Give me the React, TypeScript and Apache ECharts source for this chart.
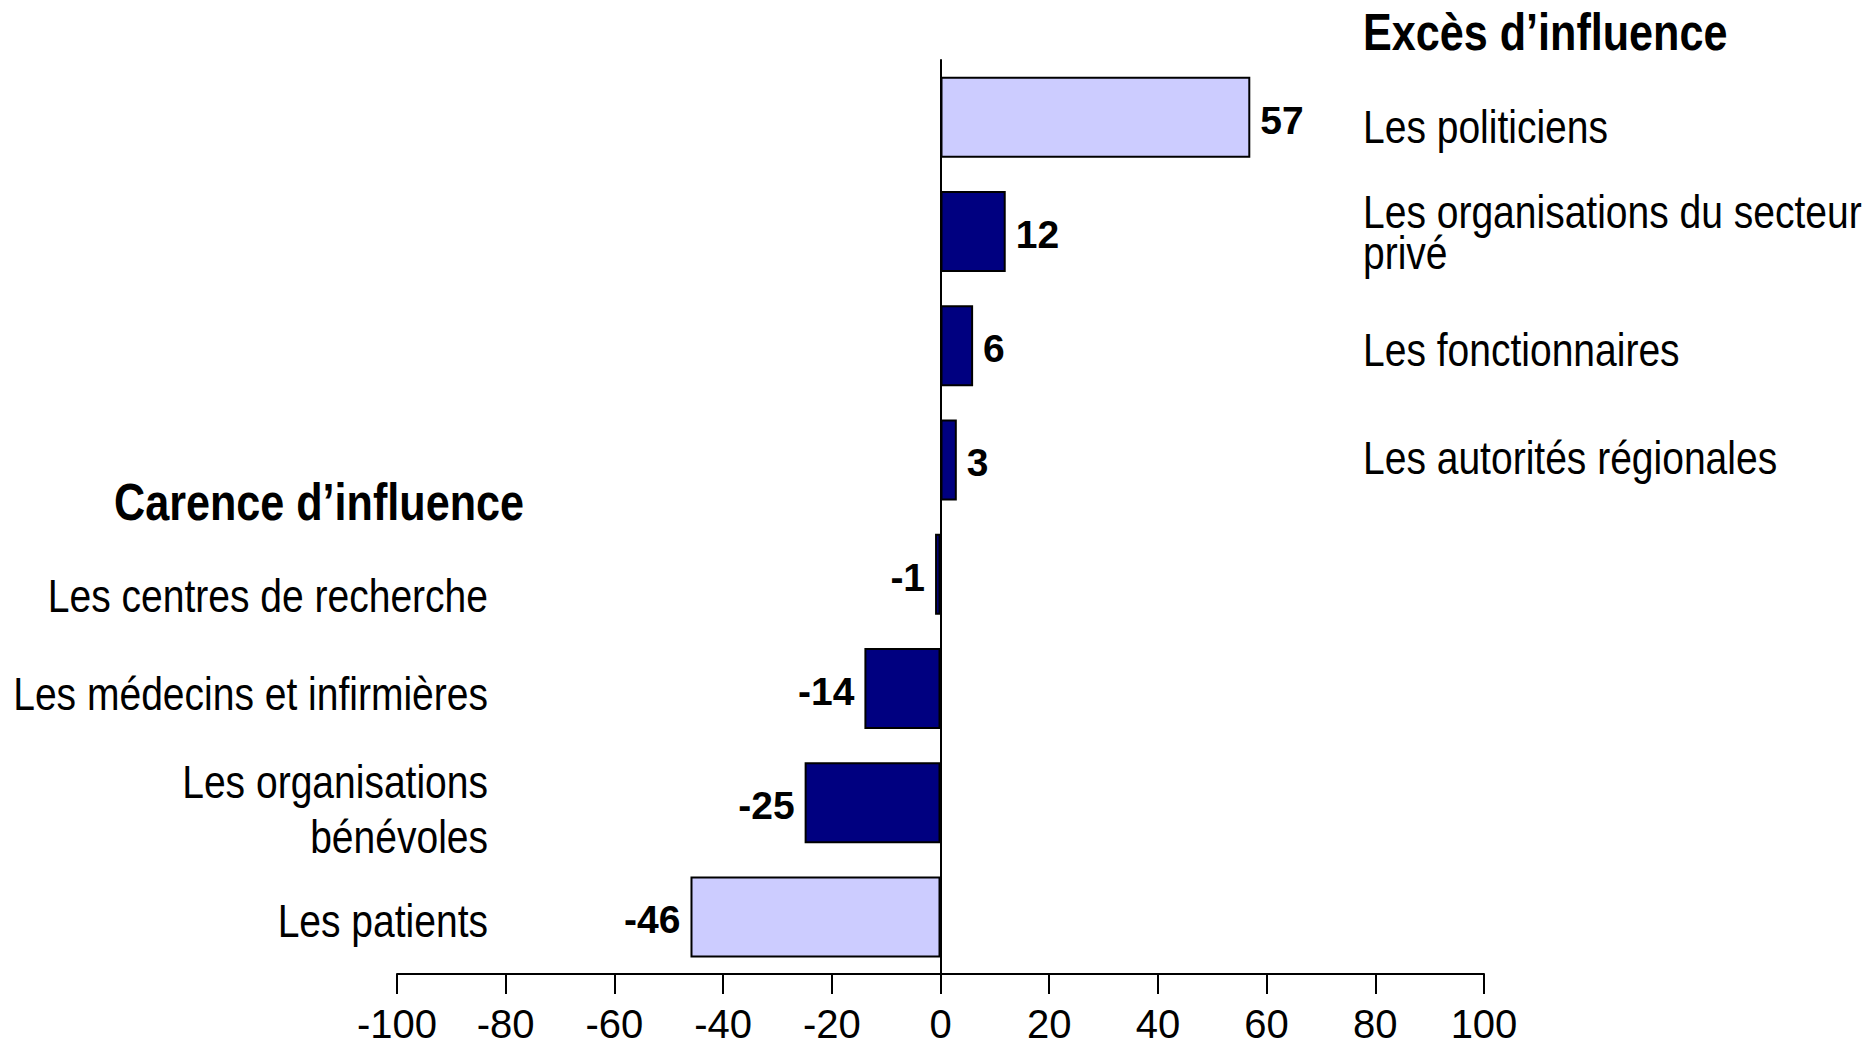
import React, { useEffect, useRef } from "react";
import * as echarts from "echarts";

const categories = [
  "Les politiciens",
  "Les organisations du secteur\nprivé",
  "Les fonctionnaires",
  "Les autorités régionales",
  "Les centres de recherche",
  "Les médecins et infirmières",
  "Les organisations\nbénévoles",
  "Les patients",
];
const values = [57, 12, 6, 3, -1, -14, -25, -46];
const highlighted = [true, false, false, false, false, false, false, true];
const xTicks = [-100, -80, -60, -40, -20, 0, 20, 40, 60, 80, 100];
const titleExcess = "Excès d’influence";
const titleDeficit = "Carence d’influence";

const FONT = '"Liberation Sans", Arial, sans-serif';
const NARROW_SCALE = 0.83;

// label layout (pixel positions for the annotation texts)
const rightX = 1363;
const leftX = 488;
const labelY = [127, 232, 350, 458, 596, 694, 809, 921];
const labelLH = [47, 41, 47, 47, 47, 47, 55, 47];

export default function App() {
  const ref = useRef<HTMLDivElement>(null);
  useEffect(() => {
    if (!ref.current) return;
    const chart = echarts.init(ref.current, undefined, { renderer: "svg" });
    const graphics: any[] = [];
    graphics.push({
      type: "text",
      x: rightX,
      y: 32,
      scaleX: NARROW_SCALE,
      style: {
        text: titleExcess,
        font: `bold 52px ${FONT}`,
        fill: "#000",
        textAlign: "left",
        textVerticalAlign: "middle",
      },
    });
    graphics.push({
      type: "text",
      x: 114,
      y: 502,
      scaleX: NARROW_SCALE,
      style: {
        text: titleDeficit,
        font: `bold 52px ${FONT}`,
        fill: "#000",
        textAlign: "left",
        textVerticalAlign: "middle",
      },
    });
    categories.forEach((c, i) => {
      const right = values[i] >= 0;
      graphics.push({
        type: "text",
        x: right ? rightX : leftX,
        y: labelY[i],
        scaleX: NARROW_SCALE,
        style: {
          text: c,
          font: `47px ${FONT}`,
          lineHeight: labelLH[i],
          fill: "#000",
          textAlign: right ? "left" : "right",
          textVerticalAlign: "middle",
        },
      });
    });

    chart.setOption({
      animation: false,
      backgroundColor: "#fff",
      grid: { left: 397, right: 391, top: 60, bottom: 72, containLabel: false },
      xAxis: {
        type: "value",
        min: -100,
        max: 100,
        interval: 20,
        axisLine: { show: true, lineStyle: { color: "#000", width: 2 } },
        axisTick: { show: true, length: 20, lineStyle: { color: "#000", width: 2 } },
        splitLine: { show: false },
        axisLabel: {
          margin: 30,
          color: "#000",
          fontFamily: FONT,
          fontSize: 40,
          lineHeight: 40,
          formatter: (v: number) => (xTicks.includes(v) ? String(v) : ""),
        },
      },
      yAxis: {
        type: "category",
        data: categories,
        inverse: true,
        axisLine: { show: true, onZero: true, lineStyle: { color: "#000", width: 2 } },
        axisTick: { show: false },
        axisLabel: { show: false },
        splitLine: { show: false },
      },
      series: [
        {
          type: "bar",
          barWidth: 81,
          data: values.map((v, i) => ({
            value: v,
            itemStyle: {
              color: highlighted[i] ? "#CCCCFF" : "#000080",
              borderColor: "#000",
              borderWidth: 2,
            },
            label: {
              show: true,
              position: v >= 0 ? "right" : "left",
              distance: 10,
              offset: [0, 3],
              fontFamily: FONT,
              fontWeight: "bold",
              fontSize: 39,
              color: "#000",
              formatter: String(v),
            },
          })),
        },
      ],
      graphic: graphics,
    });
    return () => chart.dispose();
  }, []);
  return (
    <div
      ref={ref}
      style={{ position: "fixed", left: 0, top: 0, width: 1875, height: 1046, background: "#fff" }}
    />
  );
}
